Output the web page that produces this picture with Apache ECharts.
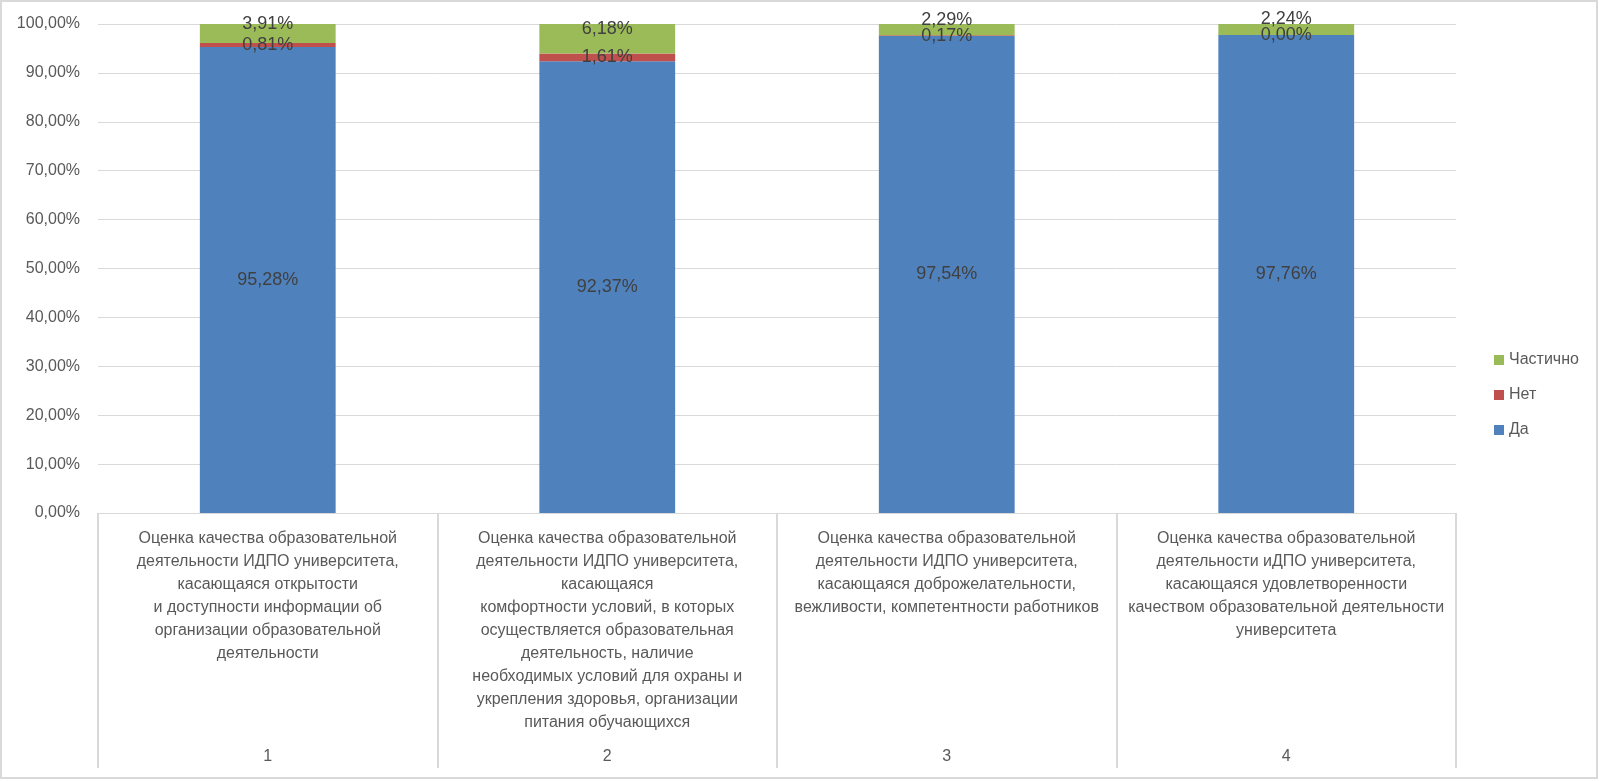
<!DOCTYPE html>
<html>
<head>
<meta charset="utf-8">
<script src="https://cdn.jsdelivr.net/npm/echarts@6/dist/echarts.min.js"></script>
<style>
html,body{margin:0;padding:0;background:#fff;}
#chart{width:1599px;height:781px;}
</style>
</head>
<body>
<div id="chart"></div>
<script>
var categories = [
  "Оценка качества образовательной\nдеятельности ИДПО университета,\nкасающаяся открытости\nи доступности информации об\nорганизации образовательной\nдеятельности",
  "Оценка качества образовательной\nдеятельности ИДПО университета,\nкасающаяся\nкомфортности условий, в которых\nосуществляется образовательная\nдеятельность, наличие\nнеобходимых условий для охраны и\nукрепления здоровья, организации\nпитания обучающихся",
  "Оценка качества образовательной\nдеятельности ИДПО университета,\nкасающаяся доброжелательности,\nвежливости, компетентности работников",
  "Оценка качества образовательной\nдеятельности иДПО университета,\nкасающаяся удовлетворенности\nкачеством образовательной деятельности\nуниверситета"
];
var catNumbers = ["1", "2", "3", "4"];
var seriesNames = ["Да", "Нет", "Частично"];
var da = [95.28, 92.37, 97.54, 97.76];
var net = [0.81, 1.61, 0.17, 0.00];
var chastichno = [3.91, 6.18, 2.29, 2.24];
var yMin = 0, yMax = 100, yStep = 10;

function pct(v) { return Number(v).toFixed(2).replace('.', ',') + '%'; }

var FONT = '"Liberation Sans", Arial, sans-serif';
var chart = echarts.init(document.getElementById('chart'));
var labelBase = { show: true, position: 'inside', color: '#404040', fontSize: 18, fontFamily: FONT,
  formatter: function (p) { return pct(p.value); } };

chart.setOption({
  animation: false,
  textStyle: { fontFamily: FONT },
  graphic: [{
    type: 'rect', silent: true, z: -1,
    shape: { x: 1, y: 1, width: 1596, height: 777 },
    style: { fill: null, stroke: '#d9d9d9', lineWidth: 2 }
  }],
  grid: { left: 98, top: 24, right: 143, bottom: 268 },
  legend: {
    orient: 'vertical', left: 1489, top: 347,
    itemWidth: 10, itemHeight: 10, itemGap: 19,
    icon: 'rect',
    data: [seriesNames[2], seriesNames[1], seriesNames[0]],
    textStyle: { fontSize: 16, color: '#595959', fontFamily: FONT }
  },
  xAxis: [{
    type: 'category', data: categories, position: 'bottom',
    axisLine: { show: true, lineStyle: { color: '#d9d9d9', width: 1 } },
    axisTick: { show: true, length: 255, interval: 0, lineStyle: { color: '#d9d9d9', width: 2 } },
    axisLabel: { interval: 0, margin: 14, lineHeight: 23, fontSize: 16, color: '#595959', fontFamily: FONT, align: 'center' }
  }, {
    type: 'category', data: catNumbers, position: 'bottom', gridIndex: 0,
    axisLine: { show: false }, axisTick: { show: false },
    axisLabel: { interval: 0, margin: 236, fontSize: 16, color: '#595959', fontFamily: FONT }
  }],
  yAxis: {
    type: 'value', min: yMin, max: yMax, interval: yStep,
    axisLine: { show: false }, axisTick: { show: false },
    splitLine: { lineStyle: { color: '#d9d9d9', width: 1 } },
    axisLabel: { margin: 18, fontSize: 16, color: '#595959', fontFamily: FONT,
      formatter: function (v) { return pct(v); } }
  },
  series: [{
    name: seriesNames[0], type: 'bar', stack: 'total', data: da, barWidth: '40%',
    itemStyle: { color: '#4F81BD' }, label: labelBase
  }, {
    name: seriesNames[1], type: 'bar', stack: 'total', data: net, barWidth: '40%',
    itemStyle: { color: '#C0504D' }, label: labelBase
  }, {
    name: seriesNames[2], type: 'bar', stack: 'total', data: chastichno, barWidth: '40%',
    itemStyle: { color: '#9BBB59' }, label: Object.assign({}, labelBase, { offset: [0, -10] })
  }]
});
</script>
</body>
</html>
